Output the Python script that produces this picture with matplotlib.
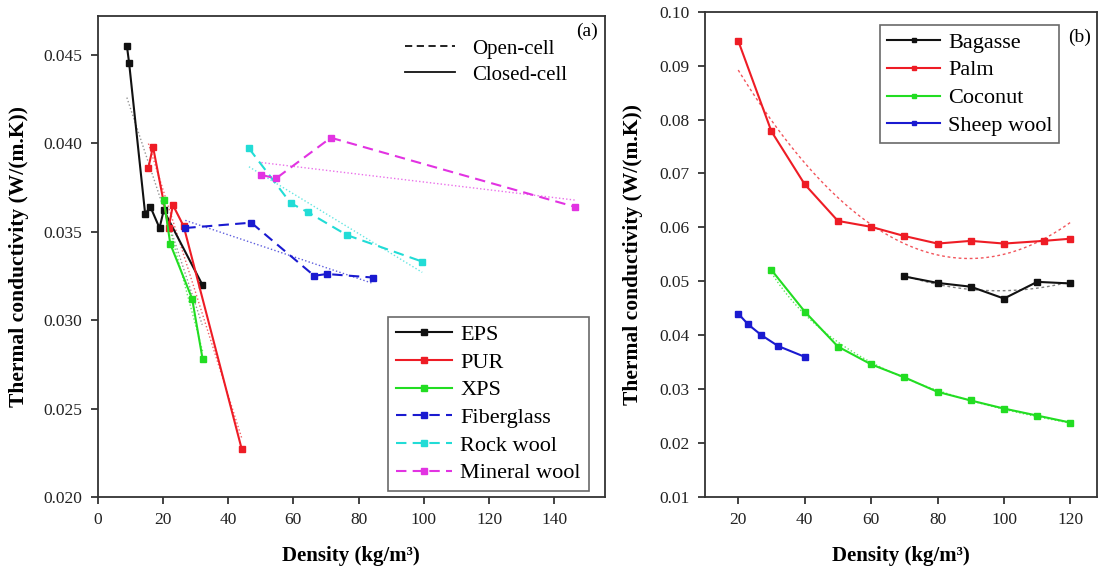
import numpy as np
import matplotlib
matplotlib.use("Agg")
import matplotlib.pyplot as plt
from matplotlib.lines import Line2D

plt.rcParams['font.family'] = ['Liberation Serif', 'DejaVu Serif']

# ---- (a) foam insulations: density (kg/m3) vs thermal conductivity (W/(m.K)) ----
eps_x = [9.0, 9.7, 14.6, 16.2, 19.0, 20.3, 32.1]
eps_y = [0.0455, 0.0445, 0.0360, 0.0364, 0.0352, 0.0362, 0.0320]
pur_x = [15.6, 17.0, 21.8, 23.1, 26.4, 44.2]
pur_y = [0.0386, 0.0398, 0.0352, 0.0365, 0.0353, 0.0227]
xps_x = [20.3, 22.3, 29.0, 32.2]
xps_y = [0.0368, 0.0343, 0.0312, 0.0278]
fiberglass_x = [26.9, 47.1, 66.4, 70.3, 84.4]
fiberglass_y = [0.0352, 0.0355, 0.0325, 0.0326, 0.0324]
rockwool_x = [46.4, 59.2, 64.4, 76.4, 99.5]
rockwool_y = [0.0397, 0.0366, 0.0361, 0.0348, 0.0333]
mineralwool_x = [50.2, 54.7, 71.5, 146.2]
mineralwool_y = [0.0382, 0.0380, 0.0403, 0.0364]

# ---- (b) natural fibre insulations ----
bagasse_x = [70, 80, 90, 100, 110, 120]
bagasse_y = [0.0509, 0.0497, 0.0490, 0.0468, 0.0499, 0.0496]
palm_x = [20, 30, 40, 50, 60, 70, 80, 90, 100, 112, 120]
palm_y = [0.0946, 0.0778, 0.0680, 0.0612, 0.0601, 0.0584, 0.0570, 0.0575, 0.0570, 0.0575, 0.0579]
coconut_x = [30, 40, 50, 60, 70, 80, 90, 100, 110, 120]
coconut_y = [0.0521, 0.0444, 0.0379, 0.0346, 0.0322, 0.0295, 0.0279, 0.0264, 0.0251, 0.0238]
sheep_x = [20, 23, 27, 32, 40]
sheep_y = [0.0440, 0.0420, 0.0400, 0.0380, 0.0360]

left_xticks = [0, 20, 40, 60, 80, 100, 120, 140]
left_yticks = [0.020, 0.025, 0.030, 0.035, 0.040, 0.045]
right_xticks = [20, 40, 60, 80, 100, 120]
right_yticks = [0.01, 0.02, 0.03, 0.04, 0.05, 0.06, 0.07, 0.08, 0.09, 0.10]

BLACK = '#111111'
RED = '#ee1c25'
GREEN = '#22dd22'
BLUE = '#1a1ad0'
CYAN = '#22dcd6'
MAGENTA = '#e233e2'

W, H = 1101, 574
fig = plt.figure(figsize=(W / 100, H / 100), dpi=100)
ax1 = fig.add_axes([97.5 / W, 1 - 497 / H, (605 - 97.5) / W, (497 - 15.6) / H])
ax2 = fig.add_axes([705 / W, 1 - 497 / H, (1097 - 705) / W, (497 - 11.7) / H])

DASH = (0, (5, 3))
FITSTYLE = (0, (1, 1.6))


def style_axes(ax):
    for s in ax.spines.values():
        s.set_linewidth(1.3)
        s.set_color('#333333')
    ax.tick_params(direction='out', length=5, width=1.2, labelsize=12.5, pad=6,
                   top=False, right=False, colors='#222222')


def linear_fit(ax, x, y, color):
    x = np.asarray(x, float)
    y = np.asarray(y, float)
    k, b = np.polyfit(x, y, 1)
    xs = np.linspace(x.min(), x.max(), 50)
    ax.plot(xs, k * xs + b, linestyle=FITSTYLE, color=color, lw=1.0, alpha=0.7, zorder=1)


# panel (a)
series_a = [
    (eps_x, eps_y, BLACK, '-', 'EPS'),
    (pur_x, pur_y, RED, '-', 'PUR'),
    (xps_x, xps_y, GREEN, '-', 'XPS'),
    (fiberglass_x, fiberglass_y, BLUE, DASH, 'Fiberglass'),
    (rockwool_x, rockwool_y, CYAN, DASH, 'Rock wool'),
    (mineralwool_x, mineralwool_y, MAGENTA, DASH, 'Mineral wool'),
]
handles_a = []
for x, y, c, ls, lab in series_a:
    linear_fit(ax1, x, y, c if c != BLACK else '#666666')
    h, = ax1.plot(x, y, linestyle=ls, color=c, lw=1.5, marker='s', ms=4.2,
                  mfc=c, mec=c, label=lab, zorder=3)
    handles_a.append(h)

ax1.set_xlim(0, 155.5)
ax1.set_ylim(0.020, 0.0472)
ax1.set_xticks(left_xticks)
ax1.set_yticks(left_yticks)
ax1.set_yticklabels([f'{v:.3f}' for v in left_yticks])
style_axes(ax1)
ax1.set_xlabel('Density (kg/m³)', fontsize=15, fontweight='bold', labelpad=13)
ax1.set_ylabel('Thermal conductivity (W/(m.K))', fontsize=15.5, fontweight='bold', labelpad=10)

leg1 = ax1.legend(handles=handles_a, loc='lower right', bbox_to_anchor=(0.968, 0.012),
                  fontsize=16, frameon=True, fancybox=False, edgecolor='#444444',
                  handlelength=2.5, handletextpad=0.4, labelspacing=0.32,
                  borderpad=0.35, borderaxespad=0)
leg1.get_frame().set_linewidth(1.2)
ax1.add_artist(leg1)

cell_handles = [Line2D([], [], color=BLACK, lw=1.3, linestyle=(0, (4, 2.5))),
                Line2D([], [], color=BLACK, lw=1.3, linestyle='-')]
ax1.legend(cell_handles, ['Open-cell', 'Closed-cell'], loc='upper right',
           bbox_to_anchor=(0.962, 0.99), fontsize=15, frameon=False,
           handlelength=2.4, handletextpad=0.8, labelspacing=0.3)
ax1.text(0.985, 0.985, '(a)', transform=ax1.transAxes, ha='right', va='top', fontsize=14)

# panel (b)
def poly_fit(ax, x, y, deg, color, ls):
    x = np.asarray(x, float)
    y = np.asarray(y, float)
    p = np.polyfit(x, y, deg)
    xs = np.linspace(x.min(), x.max(), 100)
    ax.plot(xs, np.polyval(p, xs), linestyle=ls, color=color, lw=1.0, alpha=0.75, zorder=1)


def power_fit(ax, x, y, color, ls):
    x = np.asarray(x, float)
    y = np.asarray(y, float)
    b, a = np.polyfit(np.log(x), np.log(y), 1)
    xs = np.linspace(x.min(), x.max(), 100)
    ax.plot(xs, np.exp(a) * xs ** b, linestyle=ls, color=color, lw=1.0, alpha=0.75, zorder=1)


poly_fit(ax2, palm_x, palm_y, 2, RED, (0, (2, 2)))
poly_fit(ax2, bagasse_x, bagasse_y, 2, '#555555', (0, (2, 2)))
power_fit(ax2, coconut_x, coconut_y, GREEN, (0, (1, 1.6)))

series_b = [
    (bagasse_x, bagasse_y, BLACK, 'Bagasse'),
    (palm_x, palm_y, RED, 'Palm'),
    (coconut_x, coconut_y, GREEN, 'Coconut'),
    (sheep_x, sheep_y, BLUE, 'Sheep wool'),
]
handles_b = []
for x, y, c, lab in series_b:
    h, = ax2.plot(x, y, '-', color=c, lw=1.5, marker='s', ms=4.2, mfc=c, mec=c,
                  label=lab, zorder=3)
    handles_b.append(h)

ax2.set_xlim(10, 128)
ax2.set_ylim(0.01, 0.10)
ax2.set_xticks(right_xticks)
ax2.set_yticks(right_yticks)
ax2.set_yticklabels([f'{v:.2f}' for v in right_yticks])
style_axes(ax2)
ax2.set_xlabel('Density (kg/m³)', fontsize=15, fontweight='bold', labelpad=13)
ax2.set_ylabel('Thermal conductivity (W/(m.K))', fontsize=15.5, fontweight='bold', labelpad=12)

leg2 = ax2.legend(handles=handles_b, loc='upper left', bbox_to_anchor=(0.447, 0.972),
                  fontsize=16, frameon=True, fancybox=False, edgecolor='#444444',
                  handlelength=2.4, handletextpad=0.35, labelspacing=0.33,
                  borderpad=0.3, borderaxespad=0, markerscale=0.8)
leg2.get_frame().set_linewidth(1.2)
ax2.text(0.985, 0.965, '(b)', transform=ax2.transAxes, ha='right', va='top', fontsize=14)

fig.savefig('out.png', dpi=100)
